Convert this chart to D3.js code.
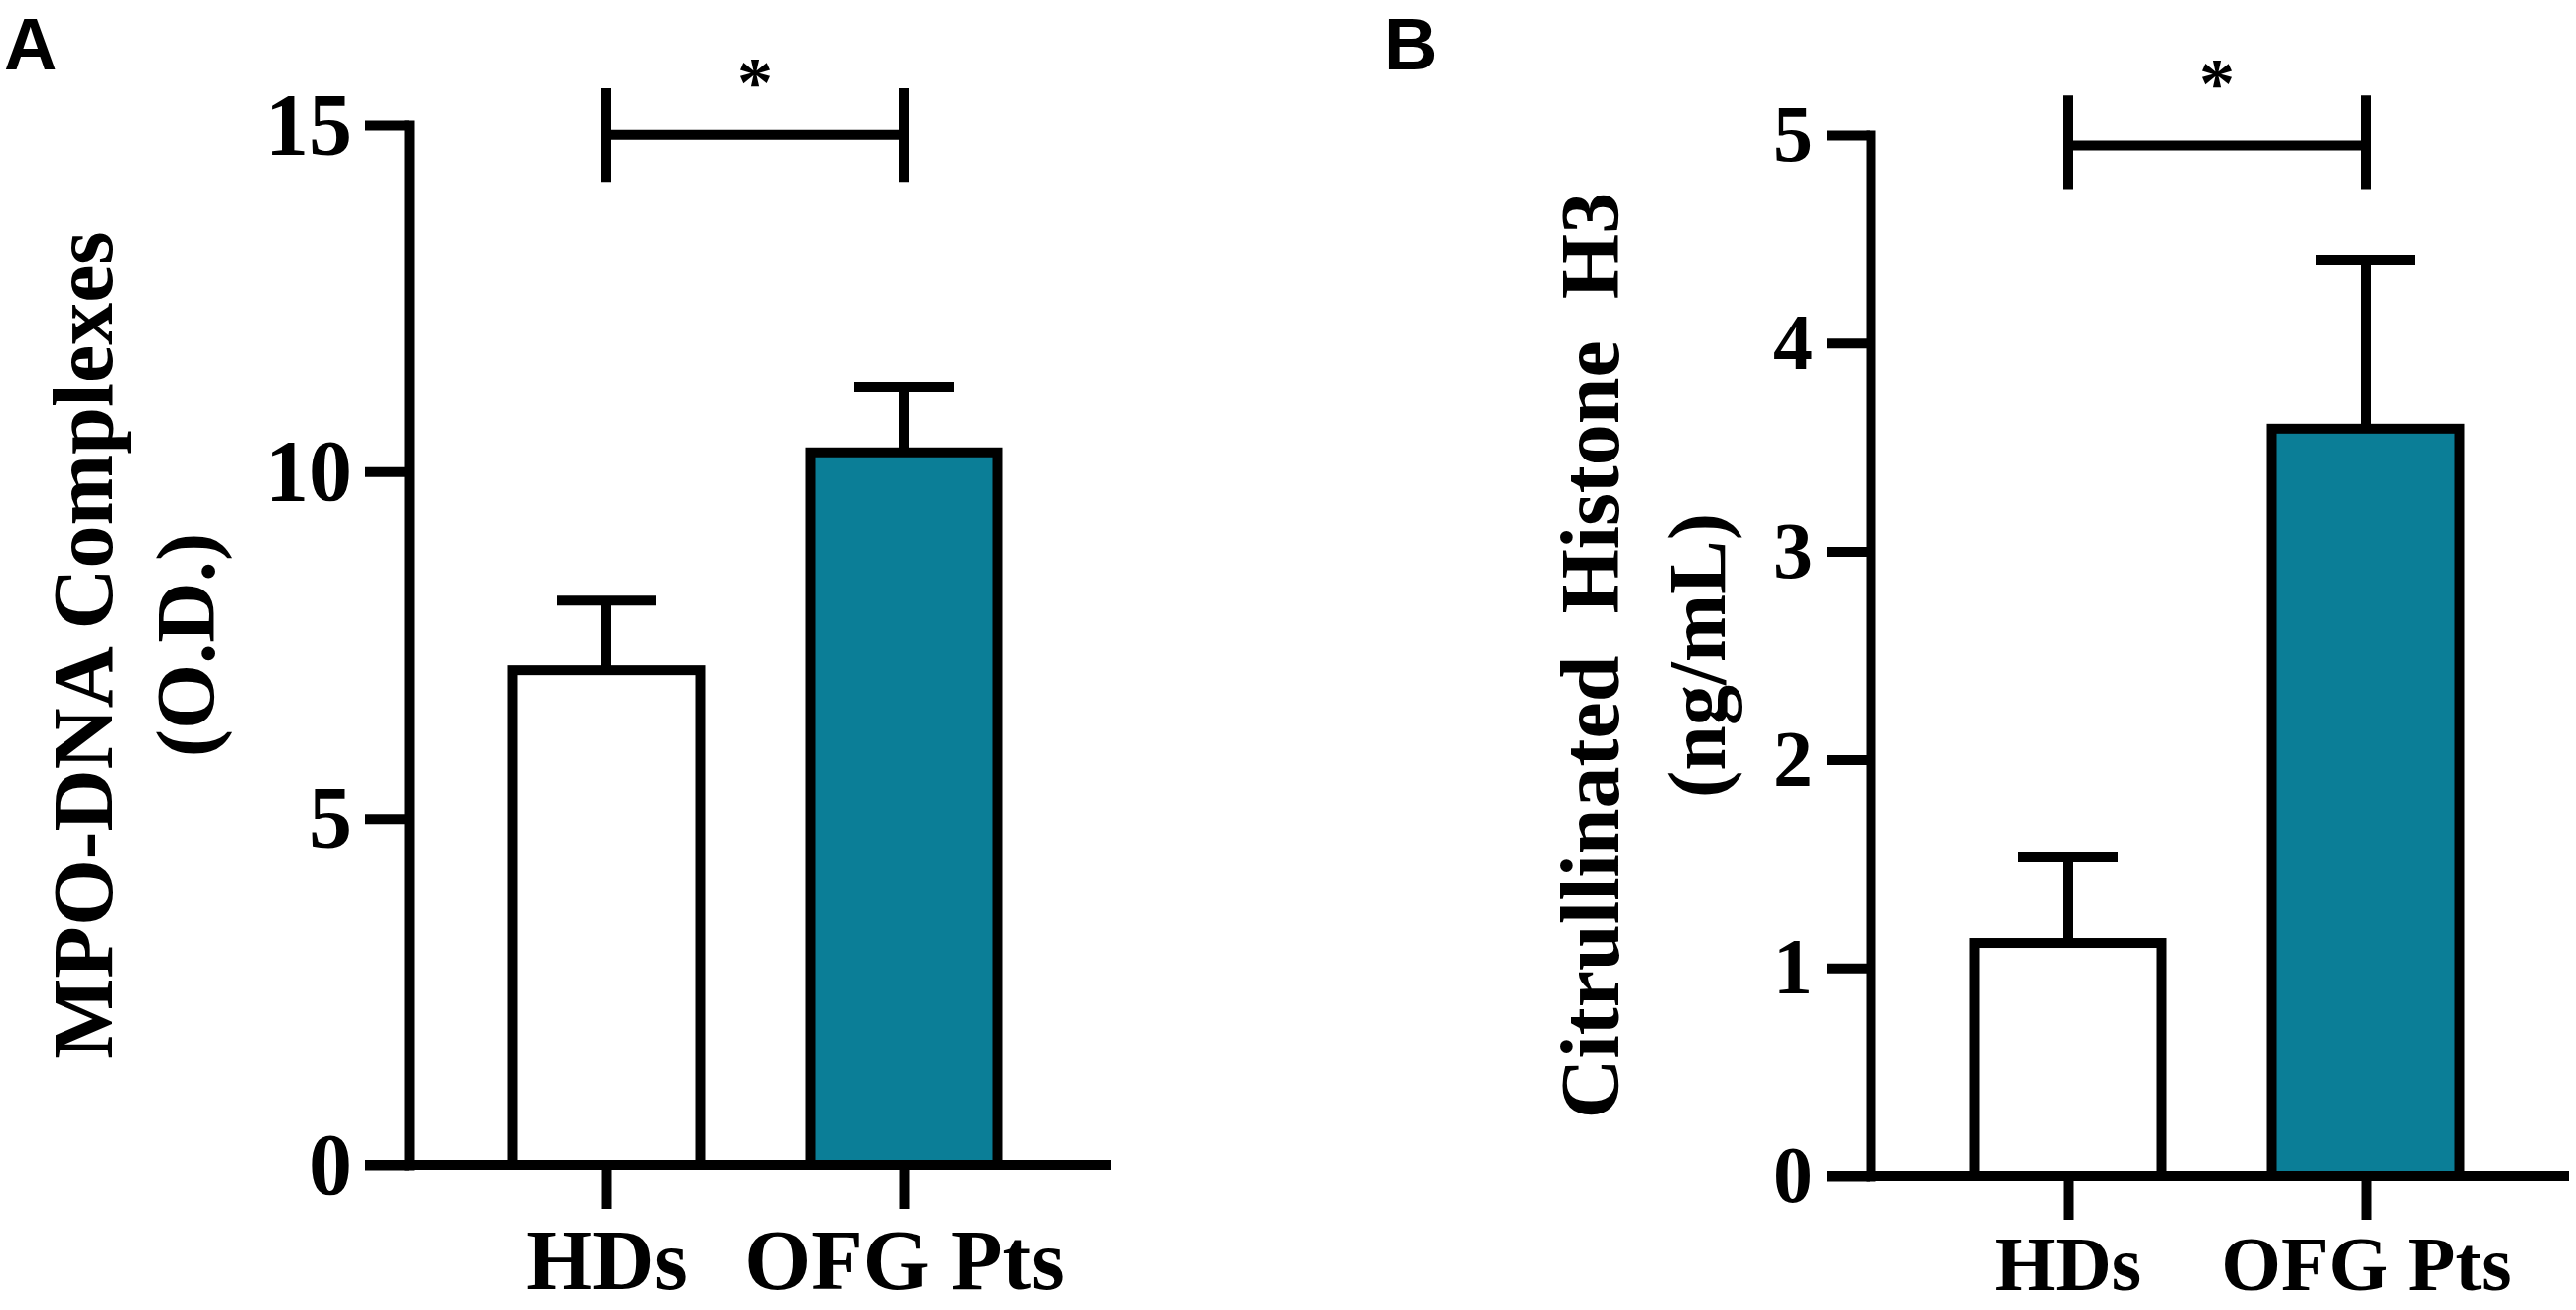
<!DOCTYPE html>
<html>
<head>
<meta charset="utf-8">
<script src="https://d3js.org/d3.v7.min.js"></script>
<style>
  html, body { margin: 0; padding: 0; background: #fff; }
  svg { display: block; }
  text { white-space: pre; }
</style>
</head>
<body>
<script>
// ---- data ----
var groups = ['HDs', 'OFG Pts'];

// Panel A: MPO-DNA complexes (O.D.)
var mpoMean = [7.14, 10.28];
var mpoSem = [1.0, 0.94];
var mpoTicks = [0, 5, 10, 15];
var mpoBracket = [14.18, 14.86, 15.53]; // bottom, bar, top
var mpoStar = 15.77;

// Panel B: citrullinated histone H3 (ng/mL)
var histMean = [1.12, 3.59];
var histSem = [0.41, 0.81];
var histTicks = [0, 1, 2, 3, 4, 5];
var histBracket = [4.74, 4.95, 5.19];
var histStar = 5.30;

var W = 2596, H = 1320;
var SERIF = "'Liberation Serif', 'Times New Roman', serif";
var SANS = "'Liberation Sans', Arial, sans-serif";
var fills = ['#ffffff', '#0b7e97'];

var svg = d3.select('body').append('svg')
  .attr('width', W)
  .attr('height', H);

function drawPanel(p) {
  var g = svg.append('g');

  var y = d3.scaleLinear().domain([0, p.max]).range([p.bottom, p.top]);
  var x = d3.scalePoint().domain(groups).range([p.axisX + 199, p.axisX + 499]);
  var bw = 189;

  // error bars (upper only)
  var eb = g.selectAll('.err').data(groups).enter().append('g')
    .attr('stroke', '#000').attr('stroke-width', 10).attr('fill', 'none');
  eb.append('line')
    .attr('x1', function (d) { return x(d); })
    .attr('x2', function (d) { return x(d); })
    .attr('y1', function (d, i) { return y(p.mean[i]); })
    .attr('y2', function (d, i) { return y(p.mean[i] + p.sem[i]); });
  eb.append('line')
    .attr('x1', function (d) { return x(d) - 50; })
    .attr('x2', function (d) { return x(d) + 50; })
    .attr('y1', function (d, i) { return y(p.mean[i] + p.sem[i]); })
    .attr('y2', function (d, i) { return y(p.mean[i] + p.sem[i]); });

  // bars
  g.selectAll('.bar').data(groups).enter().append('rect')
    .attr('x', function (d) { return x(d) - bw / 2; })
    .attr('y', function (d, i) { return y(p.mean[i]); })
    .attr('width', bw)
    .attr('height', function (d, i) { return y(0) - y(p.mean[i]); })
    .attr('fill', function (d, i) { return fills[i]; })
    .attr('stroke', '#000')
    .attr('stroke-width', 10);

  // y axis
  var ya = g.append('g')
    .attr('transform', 'translate(' + p.axisX + ',0)')
    .call(d3.axisLeft(y).tickValues(p.ticks).tickSize(44).tickSizeOuter(0)
      .tickPadding(p.tickPad).tickFormat(d3.format('d')));
  ya.attr('font-family', SERIF).attr('font-size', p.tickFont).attr('font-weight', 'bold');
  ya.select('.domain').attr('stroke-width', 10).attr('stroke-linecap', 'square');
  ya.selectAll('.tick line').attr('stroke-width', 10);
  ya.selectAll('.tick text').attr('fill', '#000');

  // x axis
  var xa = g.append('g')
    .attr('transform', 'translate(0,' + p.bottom + ')')
    .call(d3.axisBottom(x).tickSize(44).tickSizeOuter(0).tickPadding(p.catPad));
  xa.attr('font-family', SERIF).attr('font-size', p.catFont).attr('font-weight', 'bold');
  xa.select('.domain').remove();
  xa.selectAll('.tick line').attr('stroke-width', 10);
  xa.selectAll('.tick text').attr('fill', '#000');
  xa.append('line')
    .attr('x1', p.axisX - 44).attr('x2', p.xEnd)
    .attr('y1', 0).attr('y2', 0)
    .attr('stroke', '#000').attr('stroke-width', 10);

  // significance bracket
  var x0 = x(groups[0]), x1 = x(groups[1]);
  var b = p.bracket;
  g.append('path')
    .attr('d', 'M' + x0 + ',' + y(b[0]) + 'V' + y(b[2]) +
      'M' + x0 + ',' + y(b[1]) + 'H' + x1 +
      'M' + x1 + ',' + y(b[2]) + 'V' + y(b[0]))
    .attr('fill', 'none').attr('stroke', '#000').attr('stroke-width', 10);
  g.append('text')
    .attr('x', (x0 + x1) / 2)
    .attr('y', y(p.star))
    .attr('dy', '0.48em')
    .attr('text-anchor', 'middle')
    .attr('font-family', SERIF).attr('font-weight', 'bold')
    .attr('font-size', 72)
    .text('*');

  // y title (two lines)
  var cy = (p.top + p.bottom) / 2;
  p.title.forEach(function (t, i) {
    g.append('text')
      .attr('transform', 'translate(' + p.titleX[i] + ',' + cy + ') rotate(-90)')
      .attr('text-anchor', 'middle')
      .attr('font-family', SERIF).attr('font-weight', 'bold')
      .attr('font-size', p.titleFont[i])
      .text(t);
  });

  // panel letter
  g.append('text')
    .attr('x', p.letterX).attr('y', 70)
    .attr('font-family', SANS).attr('font-weight', 'bold')
    .attr('font-size', 74)
    .text(p.letter);
}

drawPanel({
  letter: 'A', letterX: 4,
  mean: mpoMean, sem: mpoSem, ticks: mpoTicks, max: 15,
  bracket: mpoBracket, star: mpoStar,
  axisX: 412, top: 126, bottom: 1174, xEnd: 1120,
  tickFont: 88, tickPad: 13, catFont: 86, catPad: 20,
  title: ['MPO-DNA Complexes', '(O.D.)'], titleX: [113, 216], titleFont: [86, 85]
});

drawPanel({
  letter: 'B', letterX: 1395,
  mean: histMean, sem: histSem, ticks: histTicks, max: 5,
  bracket: histBracket, star: histStar,
  axisX: 1885, top: 136, bottom: 1185, xEnd: 2589,
  tickFont: 80, tickPad: 14, catFont: 78, catPad: 16,
  title: ['Citrullinated  Histone  H3', '(ng/mL)'], titleX: [1631, 1738], titleFont: [84, 82]
});
</script>
</body>
</html>
